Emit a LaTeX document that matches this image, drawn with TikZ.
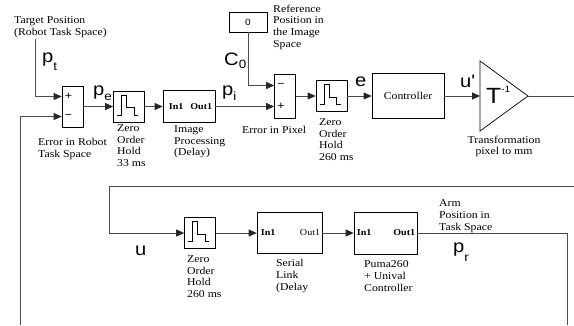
\documentclass[tikz,border=0pt]{standalone}
\usepackage{fontspec}
\setmainfont{Liberation Serif}[FakeStretch=1.12]
\setsansfont{Liberation Sans}[FakeStretch=1.12]
\usetikzlibrary{arrows.meta,calc}
\newcommand{\sig}[3][5pt]{{\sffamily\fontsize{18}{18}\selectfont #2\raisebox{-#1}{\fontsize{12}{12}\selectfont #3}}}
\newcommand{\zohicon}[1]{\draw[line width=0.7pt, shift={(#1.center)}] (-12,8.5) -- (-7.5,8.5) -- (-7.5,-11.5) -- (-2.5,-11.5) -- (-2.5,1) -- (5,1) -- (5,8.5) -- (9,8.5);}
\begin{document}
\begin{tikzpicture}[x=1pt, y=-1pt, >={Triangle[length=8pt,width=7pt,color=black!85]},
  blk/.style={draw, line width=0.7pt, inner sep=0pt, font=\fontsize{10.5}{11.7}\selectfont},
  wire/.style={draw=black!70, line width=0.8pt},
  txt/.style={align=left, anchor=north west, inner sep=0pt, font=\fontsize{10.5}{11.7}\selectfont},
  port/.style={inner sep=0pt, font=\bfseries\fontsize{9}{9}\selectfont},
  sgn/.style={inner sep=0pt, anchor=west, font=\sffamily\fontsize{11}{11}\selectfont},
  lbl/.style={anchor=base west, inner sep=0pt}]
\useasboundingbox (0,0) rectangle (574,325);
\node[blk, minimum width=21pt, minimum height=41pt] (sum1) at (72.5,106.5) {};
\node[sgn] (sum1p) at ($(sum1.west)+(3,-10)$) {+};
\node[sgn] (sum1m) at ($(sum1.west)+(3,10)$) {−};
\node[blk, minimum size=31pt] (zoh1) at (129,106.5) {};
\zohicon{zoh1}
\node[blk, minimum width=52pt, minimum height=32pt] (imgp) at (189,106.5) {};
\node[port, anchor=west] (imgpin) at ($(imgp.west)+(6,0)$) {In1};
\node[port, anchor=east] (imgpout) at ($(imgp.east)+(-3,0)$) {Out1};
\node[blk, minimum width=38pt, minimum height=20pt, font=\sffamily\fontsize{9}{9}\selectfont] (cnst) at (248,22) {0};
\node[blk, minimum width=21pt, minimum height=44pt] (sum2) at (285,96) {};
\node[sgn] (sum2m) at ($(sum2.west)+(3,-10.5)$) {−};
\node[sgn] (sum2p) at ($(sum2.west)+(3,10.5)$) {+};
\node[blk, minimum size=31pt] (zoh2) at (331.5,96) {};
\zohicon{zoh2}
\node[blk, minimum width=72pt, minimum height=45pt] (ctrl) at (408,96) {Controller};
\draw[line width=0.7pt] (480,61) -- (528,96) -- (480,131) -- cycle;
\coordinate (gin) at (480,96);
\coordinate (gout) at (528,96);
\node[lbl] (tinv) at (486,103) {\sffamily\fontsize{22}{22}\selectfont T\raisebox{11pt}{\fontsize{9}{9}\selectfont -1}};
\node[blk, minimum size=31pt] (zoh3) at (200,233) {};
\zohicon{zoh3}
\node[blk, minimum width=65pt, minimum height=41pt] (serial) at (289.5,233) {};
\node[port, anchor=west] (serialin) at ($(serial.west)+(4,0)$) {In1};
\node[port, anchor=east, font=\fontsize{9}{9}\selectfont] (serialout) at ($(serial.east)+(-2,0)$) {Out1};
\node[blk, minimum width=63pt, minimum height=42pt] (puma) at (385.5,233) {};
\node[port, anchor=west] (pumain) at ($(puma.west)+(3,0)$) {In1};
\node[port, anchor=east] (pumaout) at ($(puma.east)+(-2,0)$) {Out1};
\node[txt] (tgt) at (14,16.5) {Target Position\\(Robot Task Space)};
\node[txt] (ref) at (273,4.5) {Reference\\Position in\\the Image\\Space};
\node[txt] (err1) at (38,138.5) {Error in Robot\\Task Space};
\node[txt] (zoh1lbl) at (117,124.5) {Zero\\Order\\Hold\\33 ms};
\node[txt] (imgplbl) at (174,125.5) {Image\\Processing\\(Delay)};
\node[txt] (err2) at (242,126.5) {Error in Pixel};
\node[txt] (zoh2lbl) at (319,118.5) {Zero\\Order\\Hold\\260 ms};
\node[txt, anchor=north, align=center] (trf) at (504,135.5) {Transformation\\pixel to mm};
\node[txt] (zoh3lbl) at (187,255.5) {Zero\\Order\\Hold\\260 ms};
\node[txt] (seriallbl) at (276,259.5) {Serial\\Link\\(Delay};
\node[txt] (pumalbl) at (364,260.5) {Puma260\\+ Unival\\Controller};
\node[txt] (arm) at (439,199.5) {Arm\\Position in\\Task Space};
\node[lbl] (lpt) at (42,62) {\sig[8pt]{p}{t}};
\node[lbl] (lpe) at (93,95) {\sig{p}{e}};
\node[lbl] (lpi) at (222,95) {\sig{p}{i}};
\node[lbl] (lc0) at (224,65) {\sig[3pt]{C}{0}};
\node[lbl] (le) at (355,86) {\sig{e}{}};
\node[lbl] (lu1) at (460,87) {\sig{u\textquotesingle}{}};
\node[lbl] (lu) at (135,255) {\sig{u}{}};
\node[lbl] (lpr) at (453,252) {\sig[9pt]{p}{r}};
\coordinate (tp) at (35,39);
\coordinate (fb) at (20,325);
\coordinate (r1end) at (574,96);
\coordinate (r2in) at (574,186);
\coordinate (r2turn) at (109,186);
\coordinate (armout) at (567,325);
\draw[wire,->] (tp) |- ($(sum1.west)+(0,-10)$);
\draw[wire,->] (fb) |- ($(sum1.west)+(0,10)$);
\draw[wire,->] (sum1.east) -- (zoh1.west);
\draw[wire,->] (zoh1.east) -- (imgp.west);
\draw[wire,->] (imgp.east) -- ($(sum2.west)+(0,10.5)$);
\draw[wire,->] (cnst.south) |- ($(sum2.west)+(0,-10.5)$);
\draw[wire,->] (sum2.east) -- (zoh2.west);
\draw[wire,->] (zoh2.east) -- (ctrl.west);
\draw[wire,->] (ctrl.east) -- (gin);
\draw[wire] (gout) -- (r1end);
\draw[wire,->] (r2in) -- (r2turn) |- (zoh3.west);
\draw[wire,->] (zoh3.east) -- (serial.west);
\draw[wire,->] (serial.east) -- (puma.west);
\draw[wire] (puma.east) -| (armout);
\end{tikzpicture}
\end{document}
